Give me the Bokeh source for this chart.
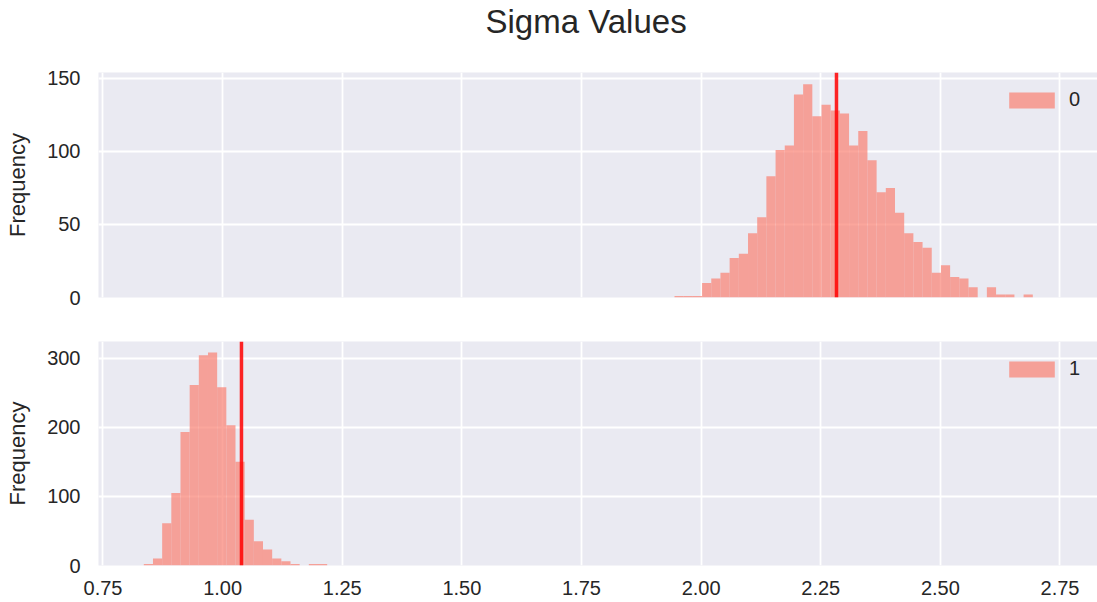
import numpy as np
from bokeh.plotting import figure
from bokeh.layouts import column
from bokeh.models import FixedTicker, Span, Range1d, NumeralTickFormatter, Title
from bokeh.embed import file_html
from bokeh.resources import INLINE

# ---- data ----
title_text = "Sigma Values"
y_label = "Frequency"
x_ticks = [0.75, 1.00, 1.25, 1.50, 1.75, 2.00, 2.25, 2.50, 2.75]

top_series = "0"
top_counts = [1, 1, 1, 10, 13, 17, 27, 30, 44, 55, 83, 101, 104, 139, 146, 124,
              132, 128, 126, 104, 114, 94, 72, 75, 58, 44, 38, 34, 17, 22, 14,
              13, 7, 0, 7, 2, 2, 0, 2]
top_bin_start = 1.9444
top_bin_width = 0.0192
top_mean = 2.2829
top_y_ticks = [0, 50, 100, 150]

bottom_series = "1"
bottom_counts = [2, 10, 61, 105, 193, 261, 304, 308, 258, 203, 150, 66, 35, 23,
                 10, 6, 2, 0, 2, 2]
bottom_bin_start = 0.8353
bottom_bin_width = 0.01916
bottom_mean = 1.0394
bottom_y_ticks = [0, 100, 200, 300]

# ---- style ----
FONT = "Liberation Sans"
TXT = "#262626"
BG = "#EAEAF2"
BAR = "salmon"

x_range = Range1d(0.7406, 2.8284)


def make_fig(height, min_top, min_bottom, y_end, y_ticks):
    p = figure(width=1097, height=height, x_range=x_range,
               y_range=Range1d(0, y_end), output_backend="svg",
               toolbar_location=None, min_border_left=98, min_border_right=0,
               min_border_top=min_top, min_border_bottom=min_bottom,
               background_fill_color=BG, border_fill_color="white",
               outline_line_color=None)
    p.xgrid.ticker = FixedTicker(ticks=x_ticks)
    p.ygrid.ticker = FixedTicker(ticks=y_ticks)
    for g in (p.xgrid, p.ygrid):
        g.grid_line_color = "white"
        g.grid_line_width = 1.8
    for ax in (p.xaxis, p.yaxis):
        ax.axis_line_color = None
        ax.major_tick_line_color = None
        ax.minor_tick_line_color = None
        ax.major_tick_in = 0
        ax.major_tick_out = 0
        ax.major_label_text_font = FONT
        ax.major_label_text_font_size = "20px"
        ax.major_label_text_color = TXT
        ax.axis_label_text_font = FONT
        ax.axis_label_text_font_size = "22px"
        ax.axis_label_text_font_style = "normal"
        ax.axis_label_text_color = TXT
    p.yaxis.ticker = FixedTicker(ticks=y_ticks)
    p.yaxis.major_label_standoff = 18
    p.yaxis.axis_label = y_label
    p.yaxis.axis_label_standoff = 14
    p.xaxis.ticker = FixedTicker(ticks=x_ticks)
    p.xaxis.formatter = NumeralTickFormatter(format="0.00")
    p.xaxis.major_label_standoff = 15
    return p


def add_hist(p, counts, start, width, mean, label, legend_y):
    n = len(counts)
    edges = start + width * np.arange(n + 1)
    p.quad(left=edges[:-1], right=edges[1:], bottom=0, top=counts,
           fill_color=BAR, fill_alpha=0.7, line_color=None, legend_label=label)
    p.add_layout(Span(location=mean, dimension="height", line_color="red",
                      line_width=3.5, line_alpha=0.85))
    lg = p.legend[0]
    lg.location = (905, legend_y)
    lg.background_fill_alpha = 0
    lg.border_line_color = None
    lg.padding = 0
    lg.margin = 0
    lg.glyph_width = 57
    lg.glyph_height = 20
    lg.label_standoff = 9
    lg.label_text_font = FONT
    lg.label_text_font_size = "20px"
    lg.label_text_color = TXT


top = make_fig(309, 72, 12, 154, top_y_ticks)
top.xaxis.visible = False
# spacer between the frame and the title, then the title itself
top.add_layout(Title(text=" ", text_font_size="1px", standoff=30), "above")
top.add_layout(Title(text=title_text, align="left", offset=387,
                     text_font=FONT, text_font_size="33px",
                     text_font_style="normal", text_color=TXT, standoff=0),
               "above")
add_hist(top, top_counts, top_bin_start, top_bin_width, top_mean, top_series, 186)

bottom = make_fig(293, 32, 37, 324, bottom_y_ticks)
add_hist(bottom, bottom_counts, bottom_bin_start, bottom_bin_width, bottom_mean,
         bottom_series, 185)

layout = column(top, bottom, spacing=0)
open("out.html", "w").write(file_html(layout, INLINE))
